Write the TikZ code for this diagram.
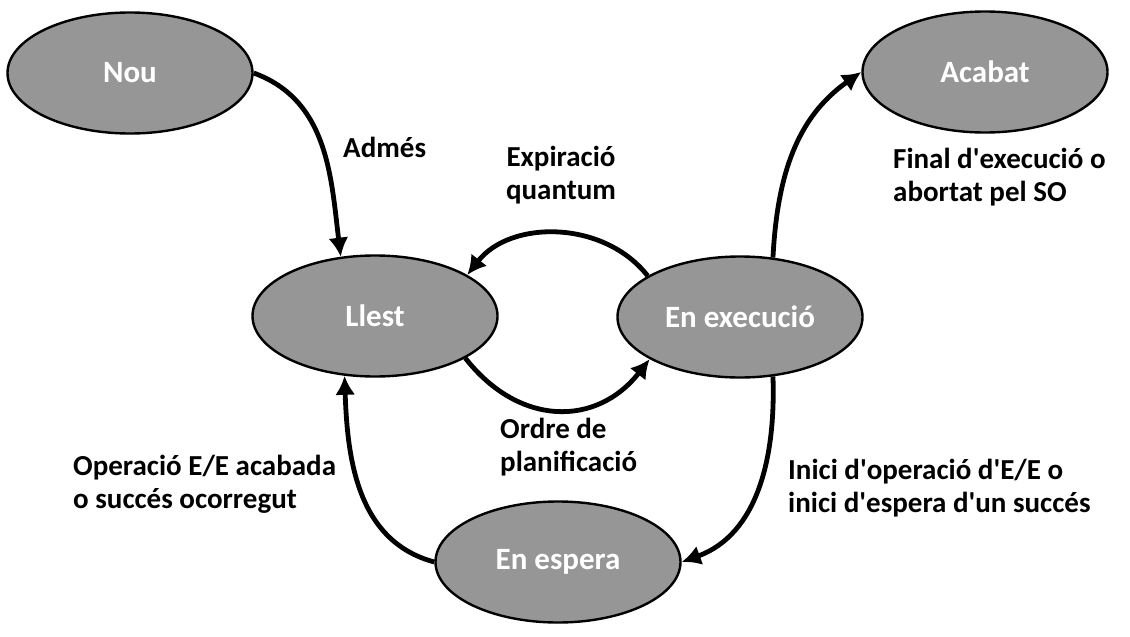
\documentclass[tikz,border=0pt]{standalone}
\usepackage{fontspec}
\setmainfont{Carlito}
\usepackage{tikz}
\usetikzlibrary{shapes,arrows,arrows.meta}
\definecolor{stategray}{RGB}{150,150,150}
\newcommand{\ap}{\textquotesingle}

\begin{document}
\begin{tikzpicture}[x=1pt,y=-1pt,
                state/.style={ellipse,draw,line width=2.4pt,fill=stategray,text=white,
                              minimum width=245pt,minimum height=121pt,inner sep=0pt,
                              font=\fontsize{31}{36}\selectfont\bfseries},
                lbl/.style={inner sep=0pt,font=\fontsize{29}{33}\selectfont\bfseries},
                link/.style={-{Latex[length=19pt,width=20pt]},line width=4.8pt}]
  \useasboundingbox (0,0) rectangle (1130,637);
  % states
  \node[state] (nou)     at (130,73)  {Nou};
  \node[state] (acabat)  at (985,72)  {Acabat};
  \node[state] (llest)   at (375,316) {Llest};
  \node[state] (exec)    at (740,317) {En execució};
  \node[state] (espera)  at (558,562) {En espera};
  % transitions
  \draw[link] (nou.east)  to[out=-20,in=97] (llest.120);
  \draw[link] (exec.156)  to[out=128,in=52] (llest.24);
  \draw[link] (llest.-25) to[out=-52,in=-128,looseness=1.2] (exec.205);
  \draw[link] (exec.61)   to[out=87,in=215] (acabat.west);
  \draw[link] (exec.-61)  to[out=-88,in=20] (espera.east);
  \draw[link] (espera.west) to[out=165,in=-88] (llest.243);
  % labels
  \node[lbl,anchor=west]              (admes) at (343,147) {Admés};
  \node[lbl,align=center]             (expir) at (561,175) {Expiració\\quantum};
  \node[lbl,anchor=west,align=left]   (final) at (893,177) {Final d\ap execució o\\abortat pel SO};
  \node[lbl,anchor=west,align=left]   (ordre) at (500,447) {Ordre de\\planificació};
  \node[lbl,anchor=west,align=left]   (opee)  at (73,484)  {Operació E/E acabada\\o succés ocorregut};
  \node[lbl,anchor=west,align=left]   (inici) at (788,488) {Inici d\ap operació d\ap E/E o\\inici d\ap espera d\ap un succés};
\end{tikzpicture}
\end{document}
